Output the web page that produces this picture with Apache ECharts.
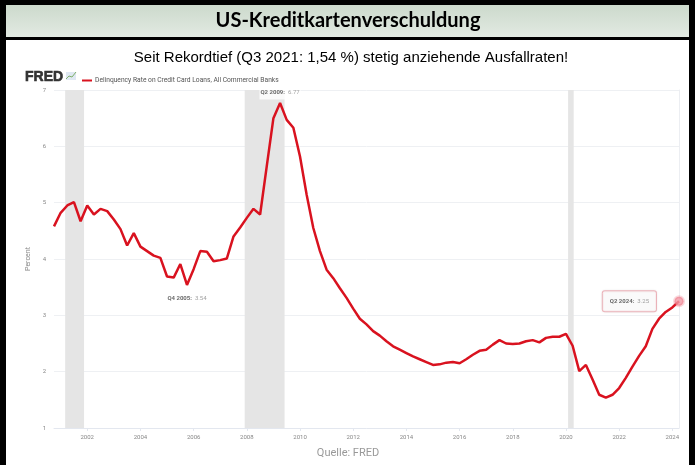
<!DOCTYPE html>
<html>
<head>
<meta charset="utf-8">
<script src="https://cdn.jsdelivr.net/npm/echarts@6/dist/echarts.min.js"></script>
<style>
  html, body { margin: 0; padding: 0; background: #fff; }
  #main { width: 695px; height: 465px; }
</style>
</head>
<body>
<div id="main"></div>
<script>
// quarterly data, first quarter = Q4 2000, dated at quarter start like FRED
var firstQuarter = 2000.75;
var rates = [
  4.58,
  4.82, 4.95, 5.01, 4.67,
  4.95, 4.79, 4.89, 4.85,
  4.70, 4.53, 4.24, 4.46,
  4.22, 4.14, 4.06, 4.02,
  3.69, 3.67, 3.91, 3.54,
  3.82, 4.14, 4.13, 3.96,
  3.98, 4.01, 4.40, 4.56,
  4.73, 4.89, 4.79, 5.65,
  6.50, 6.77, 6.47, 6.33,
  5.82, 5.14, 4.55, 4.14,
  3.81, 3.66, 3.48, 3.31,
  3.12, 2.94, 2.84, 2.72,
  2.64, 2.54, 2.45, 2.39,
  2.33, 2.27, 2.22, 2.17,
  2.12, 2.13, 2.16, 2.17,
  2.15, 2.22, 2.30, 2.37,
  2.39, 2.48, 2.56, 2.50,
  2.49, 2.50, 2.54, 2.56,
  2.52, 2.60, 2.62, 2.62,
  2.67, 2.46, 2.01, 2.12,
  1.86, 1.59, 1.54, 1.59,
  1.71, 1.89, 2.09, 2.28,
  2.45, 2.76, 2.94, 3.06,
  3.14, 3.25
];
var yearTicks = [2002, 2004, 2006, 2008, 2010, 2012, 2014, 2016, 2018, 2020, 2022, 2024];
var recessions = [[2001.17, 2001.88], [2007.92, 2009.42], [2020.08, 2020.29]];
// annotated quarters: index into rates, label text
var notes = [
  { idx: 34, name: 'Q2 2009', pos: 'top' },
  { idx: 20, name: 'Q4 2005', pos: 'bottom' },
  { idx: 94, name: 'Q2 2024', pos: 'left' }
];
var seriesName = 'Delinquency Rate on Credit Card Loans, All Commercial Banks';

var myChart = echarts.init(document.getElementById('main'));

var lineData = rates.map(function (v, i) {
  return [firstQuarter + i * 0.25, v];
});

var noteData = notes.map(function (n) {
  var p = lineData[n.idx];
  var item = {
    value: p,
    label: {
      show: true,
      position: n.pos,
      distance: n.pos === 'bottom' ? 6 : 3,
      formatter: '{b|' + n.name + ':} {v|' + p[1].toFixed(2) + '}',
      backgroundColor: '#fff',
      padding: [1, 1]
    }
  };
  if (n.pos === 'left') {
    item.symbolSize = 9;
    item.itemStyle = { color: '#f39aa6', borderColor: 'rgba(230,60,80,0.25)', borderWidth: 3 };
    item.label.distance = 17;
    item.label.padding = [4, 7];
    item.label.borderColor = '#f0a9b1';
    item.label.borderWidth = 1;
    item.label.borderRadius = 2;
    item.label.shadowColor = 'rgba(0,0,0,0.12)';
    item.label.shadowBlur = 2;
  }
  return item;
});

option = {
  animation: false,
  textStyle: { fontFamily: 'Roboto, "Liberation Sans", sans-serif' },
  grid: { left: 54, right: 16, top: 90, bottom: 37 },
  legend: {
    left: 77, top: 72,
    itemWidth: 10, itemHeight: 2, itemGap: 4,
    icon: 'rect',
    data: [seriesName],
    textStyle: { fontSize: 6.7, color: '#555', padding: [0, 0, 0, -2] }
  },
  xAxis: {
    type: 'value',
    min: 2000.75,
    max: 2024.25,
    splitLine: { show: false },
    axisLine: { show: true, lineStyle: { color: '#e3e7ef', width: 1 } },
    axisTick: { show: true, length: 3, lineStyle: { color: '#e3e7ef' }, customValues: yearTicks },
    axisLabel: { fontSize: 6, color: '#888', margin: 6, customValues: yearTicks, formatter: function (v) { return String(v); } }
  },
  yAxis: [{
    type: 'value',
    min: 1, max: 7, interval: 1,
    name: 'Percent',
    nameLocation: 'middle',
    nameRotate: 90,
    nameGap: 19,
    nameTextStyle: { fontSize: 7, color: '#888' },
    axisLine: { show: false },
    axisTick: { show: false },
    axisLabel: { fontSize: 6, color: '#888', margin: 8 },
    splitLine: { lineStyle: { color: '#eef0f3', width: 1 } }
  }, {
    type: 'value',
    position: 'right',
    min: 1, max: 7, interval: 1,
    axisLine: { show: true, lineStyle: { color: '#eceef2' } },
    axisTick: { show: false },
    axisLabel: { show: false },
    splitLine: { show: false }
  }],
  graphic: [
    // outer frame and title bar
    { type: 'rect', shape: { x: 0, y: 0, width: 695, height: 5 }, style: { fill: '#000' }, z: 100 },
    { type: 'rect', shape: { x: 0, y: 0, width: 6, height: 465 }, style: { fill: '#000' }, z: 100 },
    { type: 'rect', shape: { x: 689, y: 0, width: 6, height: 465 }, style: { fill: '#000' }, z: 100 },
    {
      type: 'rect', shape: { x: 6, y: 5, width: 683, height: 32 },
      style: { fill: new echarts.graphic.LinearGradient(0, 0, 0, 1, [
        { offset: 0, color: '#ccdacc' }, { offset: 1, color: '#e2eae2' }]) },
      z: 99
    },
    { type: 'rect', shape: { x: 6, y: 37, width: 683, height: 3 }, style: { fill: '#000' }, z: 100 },
    {
      type: 'text', x: 348, y: 21, z: 101,
      style: { text: 'US-Kreditkartenverschuldung', fill: '#000', font: 'bold 20px Lato, "Open Sans", sans-serif', align: 'center', verticalAlign: 'middle' }
    },
    {
      type: 'text', x: 351, y: 58,
      style: { text: 'Seit Rekordtief (Q3 2021: 1,54 %) stetig anziehende Ausfallraten!', fill: '#000', font: '15px "Liberation Sans", Arial, sans-serif', align: 'center', verticalAlign: 'middle' }
    },
    // FRED logo
    {
      type: 'text', x: 25, y: 77,
      style: { text: 'FRED', fill: '#333', font: 'bold 14px "Liberation Sans", sans-serif', align: 'left', verticalAlign: 'middle', stroke: '#333', lineWidth: 0.6 }
    },
    { type: 'rect', shape: { x: 66, y: 72, width: 10, height: 8 }, style: { fill: '#dfe8f2' } },
    { type: 'polyline', shape: { points: [[66, 79], [69, 76], [72, 77], [76, 72]] }, style: { stroke: '#7fb06a', lineWidth: 1, fill: null } },
    {
      type: 'text', x: 348, y: 453,
      style: { text: 'Quelle: FRED', fill: '#999', font: '11px Roboto, "Liberation Sans", sans-serif', align: 'center', verticalAlign: 'middle' }
    }
  ],
  series: [{
    name: seriesName,
    type: 'line',
    data: lineData,
    showSymbol: false,
    color: '#d9121f',
    lineStyle: { width: 2.5, color: '#d9121f' },
    z: 3,
    markArea: {
      silent: true,
      itemStyle: { color: '#e5e5e5' },
      data: recessions.map(function (r) { return [{ xAxis: r[0] }, { xAxis: r[1] }]; })
    }
  }, {
    name: 'notes',
    type: 'scatter',
    data: noteData,
    symbolSize: 1,
    itemStyle: { color: 'rgba(0,0,0,0)' },
    z: 4,
    label: {
      rich: {
        b: { fontSize: 6, fontWeight: 'bold', color: '#444' },
        v: { fontSize: 6, color: '#888' }
      }
    }
  }]
};

myChart.setOption(option);
</script>
</body>
</html>
